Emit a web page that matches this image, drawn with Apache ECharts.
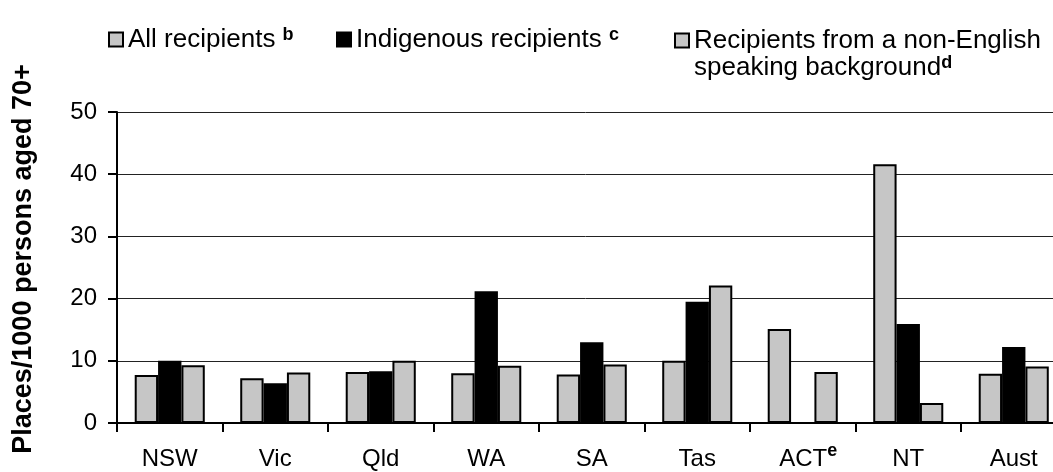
<!DOCTYPE html>
<html>
<head>
<meta charset="utf-8">
<script src="https://cdn.jsdelivr.net/npm/echarts@6/dist/echarts.min.js"></script>
<style>
html,body{margin:0;padding:0;background:#fff;}
#c{width:1053px;height:472px;}
</style>
</head>
<body>
<div id="c"></div>
<script>
var categories = ['NSW', 'Vic', 'Qld', 'WA', 'SA', 'Tas', 'ACT', 'NT', 'Aust'];
var allRecipients = [7.7, 7.2, 8.2, 8.0, 7.8, 10.0, 15.1, 41.6, 7.9];
var indigenousRecipients = [10.0, 6.4, 8.3, 21.2, 13.0, 19.5, null, 15.9, 12.2];
var nesbRecipients = [9.3, 8.1, 10.0, 9.2, 9.4, 22.1, 8.2, 3.2, 9.1];
var seriesNames = ['All recipients', 'Indigenous recipients', 'Recipients from a non-English speaking background'];
var yTitle = 'Places/1000 persons aged 70+';

var FONT = '"Liberation Sans", Arial, sans-serif';
var GREY = '#c6c6c6';

var chart = echarts.init(document.getElementById('c'), null, {renderer: 'canvas'});

var supStyle = {fontSize: 18, fontWeight: 'bold', fontFamily: FONT, color: '#000', verticalAlign: 'top', lineHeight: 6};

function legendCfg(name, left, top, formatter, extraText) {
  return {
    data: [name],
    left: left,
    top: top,
    padding: 0,
    icon: 'rect',
    itemWidth: 14,
    itemHeight: 14,
    selectedMode: false,
    formatter: formatter,
    textStyle: Object.assign({
      fontSize: 26,
      fontFamily: FONT,
      color: '#000',
      lineHeight: 27,
      rich: {
        sup: supStyle
      }
    }, extraText || {})
  };
}

var option = {
  animation: false,
  backgroundColor: '#fff',
  textStyle: {fontFamily: FONT},
  legend: [
    legendCfg(seriesNames[0], 108, 26, function () { return 'All recipients {sup|b}'; }),
    legendCfg(seriesNames[1], 336, 26, function () { return 'Indigenous recipients {sup|c}'; }),
    legendCfg(seriesNames[2], 674, 0, function () { return 'Recipients from a non-English\nspeaking background{sup|d}'; }, {padding: [27, 0, 0, 0]})
  ],
  grid: {left: 117, top: 112, width: 949.5, height: 311, containLabel: false, outerBoundsMode: 'none'},
  xAxis: {
    type: 'category',
    data: categories,
    axisLine: {show: true, lineStyle: {color: '#000', width: 2}},
    axisTick: {show: true, interval: 0, length: 9, lineStyle: {color: '#000', width: 2}},
    axisLabel: {
      interval: 0,
      color: '#000',
      fontSize: 24,
      fontFamily: FONT,
      margin: 19,
      lineHeight: 35,
      formatter: function (v) {
        if (v === 'ACT') return '{sp|}ACT{sup|e}';
        return v;
      },
      rich: {
        sp: {width: 11},
        sup: {fontSize: 18, fontWeight: 'bold', fontFamily: FONT, color: '#000', verticalAlign: 'top', lineHeight: 6}
      }
    },
    splitLine: {show: false}
  },
  yAxis: {
    type: 'value',
    min: 0,
    max: 50,
    interval: 10,
    axisLine: {show: true, lineStyle: {color: '#000', width: 2}},
    axisTick: {show: true, length: 9, lineStyle: {color: '#000', width: 2}},
    axisLabel: {color: '#000', fontSize: 24, fontFamily: FONT, margin: 20},
    splitLine: {show: true, lineStyle: {color: '#222', width: 1}}
  },
  graphic: [{
    type: 'text',
    x: 24,
    y: 259,
    rotation: Math.PI / 2,
    style: {
      text: yTitle,
      font: 'bold 27px ' + FONT,
      fill: '#000',
      align: 'center',
      verticalAlign: 'middle'
    }
  }],
  series: [
    {
      name: seriesNames[0], type: 'bar', data: allRecipients,
      barGap: '0%', barCategoryGap: '33.6%',
      itemStyle: {color: GREY, borderColor: '#000', borderWidth: 2}
    },
    {
      name: seriesNames[1], type: 'bar', data: indigenousRecipients,
      barGap: '0%', barCategoryGap: '33.6%',
      itemStyle: {color: '#000', borderColor: '#000', borderWidth: 2}
    },
    {
      name: seriesNames[2], type: 'bar', data: nesbRecipients,
      barGap: '0%', barCategoryGap: '33.6%',
      itemStyle: {color: GREY, borderColor: '#000', borderWidth: 2}
    }
  ]
};
chart.setOption(option);
</script>
</body>
</html>
